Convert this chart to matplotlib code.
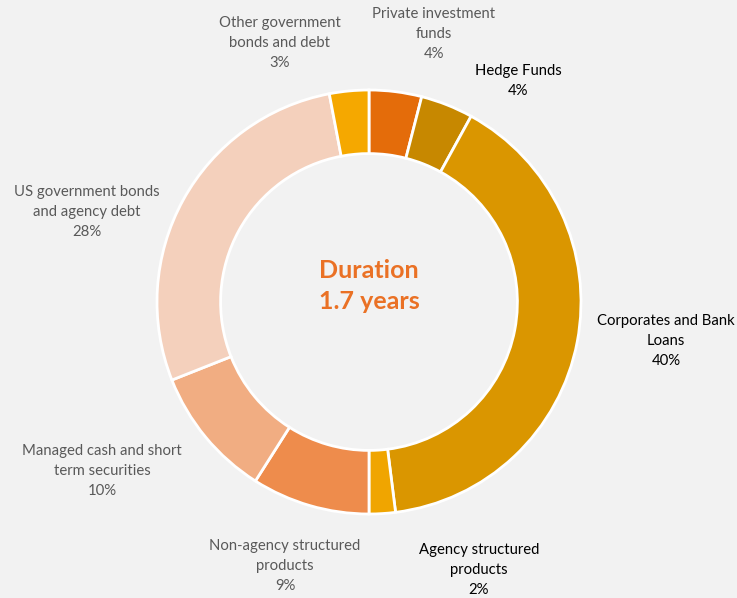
import matplotlib
matplotlib.use("Agg")
import matplotlib.pyplot as plt

labels = ["Private investment\nfunds", "Hedge Funds", "Corporates and Bank\nLoans",
          "Agency structured\nproducts", "Non-agency structured\nproducts",
          "Managed cash and short\nterm securities", "US government bonds\nand agency debt",
          "Other government\nbonds and debt"]
shares = [4, 4, 40, 2, 9, 10, 28, 3]
colors = ["#E46C0A", "#C78800", "#DA9600", "#F0A500", "#EE8C4C",
          "#F1AD82", "#F4D0BC", "#F5A800"]
label_colors = ["#595959", "#000000", "#000000", "#000000", "#595959",
                "#595959", "#595959", "#595959"]
# label block centres in pixels (x, y from top)
label_pos = [(434, 34), (518, 81), (666, 341), (479, 570), (285, 566),
             (102, 471), (87, 212), (280, 43)]

W, H = 737, 598
plt.rcParams['font.family'] = ['Lato', 'DejaVu Sans']

fig = plt.figure(figsize=(W / 100, H / 100), dpi=100, facecolor="#F2F2F2")
ax = fig.add_axes([0, 0, 1, 1])
ax.set_facecolor("#F2F2F2")

cx, cy, r = 369, H - 302, 212
ax.pie(shares, colors=colors, startangle=90, counterclock=False,
       center=(cx, cy), radius=r,
       wedgeprops=dict(width=r * 0.30, edgecolor="white", linewidth=2))

for lab, s, c, (px, py) in zip(labels, shares, label_colors, label_pos):
    ax.text(px, H - py, f"{lab}\n{s}%", ha="center", va="center",
            fontsize=10.7, color=c, linespacing=1.55)

# centre annotation
ax.text(cx, H - 286, "Duration\n1.7 years", ha="center", va="center",
        fontsize=18, fontweight="bold", color="#EA7125", linespacing=1.42)

ax.set_xlim(0, W)
ax.set_ylim(0, H)
ax.set_aspect("equal")
ax.axis("off")

fig.savefig("out.png", dpi=100, facecolor=fig.get_facecolor())
